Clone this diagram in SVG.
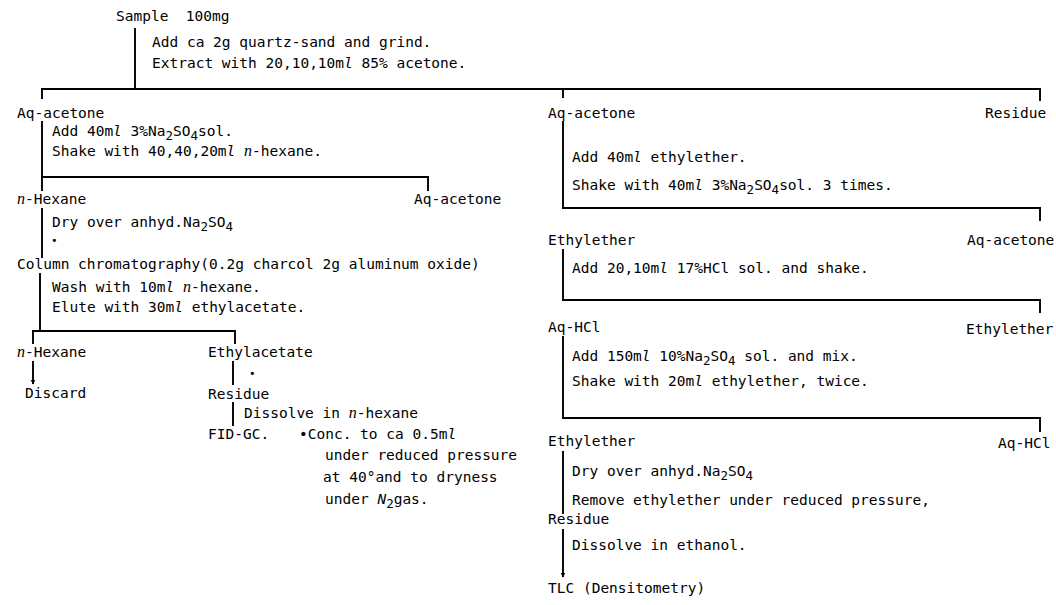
<svg xmlns="http://www.w3.org/2000/svg" width="1056" height="605" viewBox="0 0 1056 605">
<style>
text{font-family:"DejaVu Sans Mono","Liberation Mono",monospace;font-size:14.5px;fill:#000;white-space:pre}
.sb{font-size:12.5px}
.i{font-style:italic}
.n{font-family:"Liberation Serif",serif;font-style:italic;font-size:16px}
.dot{font-size:11px}
.c line{stroke:#000;stroke-width:1.9}
</style>
<defs>
<marker id="ah" viewBox="0 0 10 10" refX="9" refY="5" markerWidth="5" markerHeight="6" orient="auto" markerUnits="userSpaceOnUse">
<path d="M0,0L10,5L0,10z" fill="#000"/>
</marker>
</defs>
<rect width="1056" height="605" fill="#fff"/>
<g class="c" id="connectors">
<line x1="135" y1="28" x2="135" y2="89"/>
<line x1="41" y1="89" x2="1041" y2="89"/>
<line x1="42" y1="89" x2="42" y2="99"/>
<line x1="563" y1="89" x2="563" y2="98"/>
<line x1="1040" y1="89" x2="1040" y2="101"/>
<line x1="42" y1="121" x2="42" y2="177"/>
<line x1="41" y1="177" x2="429" y2="177"/>
<line x1="42" y1="177" x2="42" y2="191"/>
<line x1="428" y1="177" x2="428" y2="191"/>
<line x1="42" y1="208" x2="42" y2="258"/>
<line x1="40" y1="273" x2="40" y2="331"/>
<line x1="32" y1="331" x2="236" y2="331"/>
<line x1="33" y1="331" x2="33" y2="344"/>
<line x1="235" y1="331" x2="235" y2="344"/>
<line x1="33" y1="361" x2="33" y2="384" marker-end="url(#ah)"/>
<line x1="233" y1="361" x2="233" y2="385"/>
<line x1="233" y1="402" x2="233" y2="426"/>
<line x1="563" y1="121" x2="563" y2="208"/>
<line x1="562" y1="208" x2="1041" y2="208"/>
<line x1="1040" y1="208" x2="1040" y2="221"/>
<line x1="563" y1="249" x2="563" y2="300"/>
<line x1="562" y1="300" x2="1041" y2="300"/>
<line x1="1040" y1="300" x2="1040" y2="313"/>
<line x1="563" y1="336" x2="563" y2="418"/>
<line x1="562" y1="418" x2="1041" y2="418"/>
<line x1="1040" y1="418" x2="1040" y2="432"/>
<line x1="563" y1="451" x2="563" y2="514"/>
<line x1="563" y1="529" x2="563" y2="577" marker-end="url(#ah)"/>
</g>
<g id="sample"><text x="116" y="21">Sample  100mg</text></g>
<g id="step-extract">
<text x="152" y="47">Add ca 2g quartz-sand and grind.</text>
<text x="152" y="68">Extract with 20,10,10m<tspan class="i">l</tspan> 85% acetone.</text>
</g>
<g id="aq-acetone-1"><text x="17" y="118">Aq-acetone</text></g>
<g id="step-hexane">
<text x="52" y="136">Add 40m<tspan class="i">l</tspan> 3%Na<tspan class="sb" dy="4">2</tspan><tspan dy="-4">SO</tspan><tspan class="sb" dy="4">4</tspan><tspan dy="-4">sol.</tspan></text>
<text x="52" y="156">Shake with 40,40,20m<tspan class="i">l</tspan> <tspan class="n">n</tspan>-hexane.</text>
</g>
<g id="n-hexane-1"><text x="17" y="204"><tspan class="n">n</tspan>-Hexane</text></g>
<g id="aq-acetone-2"><text x="414" y="204">Aq-acetone</text></g>
<g id="step-dry-1">
<text x="52" y="227">Dry over anhyd.Na<tspan class="sb" dy="4">2</tspan><tspan dy="-4">SO</tspan><tspan class="sb" dy="4">4</tspan></text>
<text class="dot" x="51" y="244">•</text>
</g>
<g id="column"><text x="17" y="269">Column chromatography(0.2g charcol 2g aluminum oxide)</text></g>
<g id="step-elute">
<text x="52" y="292">Wash with 10m<tspan class="i">l</tspan> <tspan class="n">n</tspan>-hexane.</text>
<text x="52" y="312">Elute with 30m<tspan class="i">l</tspan> ethylacetate.</text>
</g>
<g id="n-hexane-2"><text x="17" y="357"><tspan class="n">n</tspan>-Hexane</text></g>
<g id="discard"><text x="25" y="398">Discard</text></g>
<g id="ethylacetate">
<text x="208" y="357">Ethylacetate</text>
<text class="dot" x="249" y="377">•</text>
</g>
<g id="residue-1"><text x="208" y="399">Residue</text></g>
<g id="step-dissolve-1"><text x="244" y="418">Dissolve in <tspan class="n">n</tspan>-hexane</text></g>
<g id="fid-gc"><text x="208" y="439">FID-GC.</text></g>
<g id="note">
<text x="299" y="439">•Conc. to ca 0.5m<tspan class="i">l</tspan></text>
<text x="325" y="460">under reduced pressure</text>
<text x="323" y="482">at 40°and to dryness</text>
<text x="325" y="504">under <tspan class="i">N</tspan><tspan class="sb" dy="4">2</tspan><tspan dy="-4">gas.</tspan></text>
</g>
<g id="aq-acetone-3"><text x="548" y="118">Aq-acetone</text></g>
<g id="residue-2"><text x="985" y="118">Residue</text></g>
<g id="step-ether">
<text x="572" y="162">Add 40m<tspan class="i">l</tspan> ethylether.</text>
<text x="572" y="190">Shake with 40m<tspan class="i">l</tspan> 3%Na<tspan class="sb" dy="4">2</tspan><tspan dy="-4">SO</tspan><tspan class="sb" dy="4">4</tspan><tspan dy="-4">sol. 3 times.</tspan></text>
</g>
<g id="ethylether-1"><text x="548" y="245">Ethylether</text></g>
<g id="aq-acetone-4"><text x="967" y="245">Aq-acetone</text></g>
<g id="step-hcl"><text x="572" y="273">Add 20,10m<tspan class="i">l</tspan> 17%HCl sol. and shake.</text></g>
<g id="aq-hcl-1"><text x="548" y="332">Aq-HCl</text></g>
<g id="ethylether-2"><text x="966" y="334">Ethylether</text></g>
<g id="step-mix">
<text x="572" y="361">Add 150m<tspan class="i">l</tspan> 10%Na<tspan class="sb" dy="4">2</tspan><tspan dy="-4">SO</tspan><tspan class="sb" dy="4">4</tspan><tspan dy="-4"> sol. and mix.</tspan></text>
<text x="572" y="386">Shake with 20m<tspan class="i">l</tspan> ethylether, twice.</text>
</g>
<g id="ethylether-3"><text x="548" y="446">Ethylether</text></g>
<g id="aq-hcl-2"><text x="998" y="448">Aq-HCl</text></g>
<g id="step-dry-2">
<text x="572" y="476">Dry over anhyd.Na<tspan class="sb" dy="4">2</tspan><tspan dy="-4">SO</tspan><tspan class="sb" dy="4">4</tspan></text>
<text x="572" y="505">Remove ethylether under reduced pressure,</text>
</g>
<g id="residue-3"><text x="548" y="524">Residue</text></g>
<g id="step-dissolve-2"><text x="572" y="550">Dissolve in ethanol.</text></g>
<g id="tlc"><text x="548" y="593">TLC (Densitometry)</text></g>
</svg>
